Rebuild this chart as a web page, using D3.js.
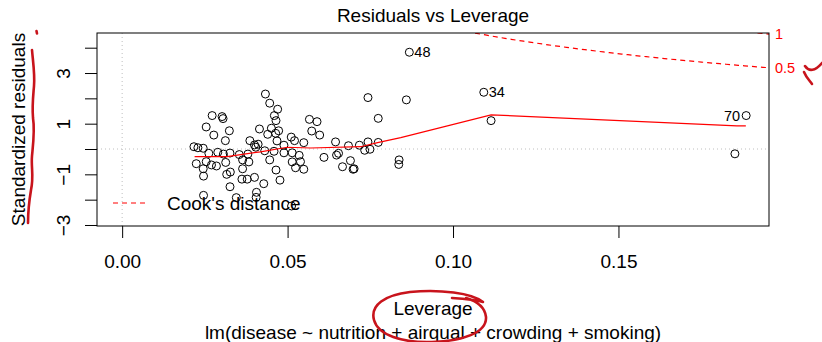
<!DOCTYPE html>
<html>
<head>
<meta charset="utf-8">
<script src="https://cdn.jsdelivr.net/npm/d3@7"></script>
<style>
  html, body { margin: 0; padding: 0; background: #fff; }
  svg { display: block; }
  text { font-family: "Liberation Sans", Arial, Helvetica, sans-serif; fill: #000; }
</style>
</head>
<body>
<svg id="chart" width="822" height="342"></svg>
<script>
// leverage / standardized residual pairs
const leverage = [0.0433, 0.0743, 0.0859, 0.0446, 0.0470, 0.0774, 0.0272, 0.0302, 0.0305, 0.0460,
  0.0465, 0.0566, 0.0589, 0.0254, 0.0324, 0.0277, 0.0415, 0.0451, 0.0440, 0.0464,
  0.0473, 0.0573, 0.0597, 0.0312, 0.0386, 0.0400, 0.0411, 0.0468, 0.0511, 0.0521,
  0.0549, 0.0645, 0.0684, 0.0717, 0.0743, 0.0774, 0.0217, 0.0229, 0.0245, 0.0262,
  0.0289, 0.0306, 0.0326, 0.0354, 0.0380, 0.0404, 0.0431, 0.0459, 0.0489, 0.0489,
  0.0514, 0.0535, 0.0610, 0.0648, 0.0654, 0.0733, 0.0749, 0.0224, 0.0254, 0.0270,
  0.0285, 0.0313, 0.0245, 0.0316, 0.0327, 0.0364, 0.0383, 0.0364, 0.0446, 0.0465,
  0.0514, 0.0524, 0.0539, 0.0549, 0.0690, 0.0666, 0.0698, 0.0701, 0.0837, 0.0836,
  0.0246, 0.0362, 0.0378, 0.0400, 0.0428, 0.0477, 0.0326, 0.0406, 0.0246, 0.0405,
  0.0345, 0.0512, 0.0868, 0.1093, 0.1115, 0.1886, 0.1852];
const stdResid = [2.17, 2.03, 1.94, 1.81, 1.57, 1.21, 1.32, 1.28, 1.20, 1.32,
  1.12, 1.17, 1.08, 0.87, 0.72, 0.55, 0.79, 0.82, 0.58, 0.62,
  0.72, 0.71, 0.55, 0.33, 0.33, 0.16, 0.19, 0.32, 0.47, 0.33,
  0.25, 0.28, 0.13, 0.15, 0.28, 0.26, 0.09, 0.05, 0.03, -0.17,
  -0.13, -0.20, -0.16, -0.22, -0.20, 0.07, -0.07, -0.09, 0.15, -0.15,
  -0.15, -0.25, -0.33, -0.24, -0.17, -0.05, -0.01, -0.58, -0.50, -0.63,
  -0.67, -0.53, -0.78, -1.00, -0.91, -0.78, -0.51, -0.43, -0.43, -0.83,
  -0.51, -0.74, -0.50, -0.80, -0.46, -0.70, -0.80, -0.78, -0.43, -0.61,
  -1.07, -1.19, -1.19, -1.12, -1.37, -1.23, -1.49, -1.71, -1.83, -1.91,
  -1.92, -2.25, 3.82, 2.24, 1.12, 1.32, -0.19];

// labelled observations
const idNames = ["48", "34", "70"];
const idIndex = [92, 93, 95];
const idLeft = [false, false, true];

// red smoother
const smoothX = [0.0219, 0.0317, 0.0418, 0.0499, 0.0570, 0.0721, 0.0772, 0.0842, 0.1115, 0.1858, 0.1885];
const smoothY = [-0.30, -0.30, -0.11, 0.07, 0.04, 0.09, 0.25, 0.45, 1.35, 0.91, 0.91];

// Cook's distance contour levels and number of model parameters
const cookLevels = [0.5, 1];
const nParams = 5;

const xTicks = [0, 0.05, 0.10, 0.15];
const yTicks = [-3, -2, -1, 0, 1, 2, 3, 4];

const plotL = 97, plotR = 769, plotT = 33, plotB = 226;
const svg = d3.select("#chart");

const x = d3.scaleLinear().domain([-0.0076, 0.1955]).range([plotL, plotR]);
const y = d3.scaleLinear().domain([-3.04, 4.58]).range([plotB, plotT]);

svg.append("defs").append("clipPath").attr("id", "plotclip")
  .append("rect").attr("x", plotL).attr("y", plotT)
  .attr("width", plotR - plotL).attr("height", plotB - plotT);

// dotted reference lines
svg.append("line")
  .attr("x1", plotL).attr("x2", plotR).attr("y1", y(0)).attr("y2", y(0))
  .attr("stroke", "#bebebe").attr("stroke-dasharray", "1,3");
svg.append("line")
  .attr("x1", x(0)).attr("x2", x(0)).attr("y1", plotT).attr("y2", plotB)
  .attr("stroke", "#bebebe").attr("stroke-dasharray", "1,3");

// points
svg.append("g").selectAll("circle")
  .data(leverage.map((h, i) => [h, stdResid[i]]))
  .join("circle")
  .attr("cx", d => x(d[0]))
  .attr("cy", d => y(d[1]))
  .attr("r", 4)
  .attr("fill", "none")
  .attr("stroke", "#000")
  .attr("stroke-width", 1);

// smoother
svg.append("path")
  .datum(smoothX.map((h, i) => [h, smoothY[i]]))
  .attr("d", d3.line().x(d => x(d[0])).y(d => y(d[1])))
  .attr("fill", "none").attr("stroke", "red").attr("stroke-width", 1.2);

// Cook's distance contours
const hMax = x.domain()[1];
const hh = d3.range(101).map(i => 0.01 + (hMax - 0.01) * i / 100);
const cookG = svg.append("g").attr("clip-path", "url(#plotclip)");
cookLevels.forEach(c => {
  [1, -1].forEach(sgn => {
    cookG.append("path")
      .datum(hh)
      .attr("d", d3.line().x(h => x(h)).y(h => y(sgn * Math.sqrt(c * nParams * (1 - h) / h))))
      .attr("fill", "none").attr("stroke", "red").attr("stroke-width", 1.2)
      .attr("stroke-dasharray", "5,4");
  });
});
svg.append("g").selectAll("text")
  .data(cookLevels)
  .join("text")
  .attr("x", plotR + 6)
  .attr("y", c => y(Math.sqrt(c * nParams * (1 - hMax) / hMax)))
  .attr("dy", "0.35em")
  .style("fill", "red")
  .attr("font-size", 14.5)
  .text(c => String(c));

// point ids
svg.append("g").selectAll("text")
  .data(idNames)
  .join("text")
  .attr("x", (d, i) => x(leverage[idIndex[i]]) + (idLeft[i] ? -6 : 5))
  .attr("y", (d, i) => y(stdResid[idIndex[i]]))
  .attr("dy", "0.35em")
  .attr("text-anchor", (d, i) => idLeft[i] ? "end" : "start")
  .attr("font-size", 14.5)
  .text(d => d);

// axes
const xAxis = svg.append("g")
  .attr("transform", `translate(0,${plotB})`)
  .call(d3.axisBottom(x).tickValues(xTicks).tickSize(12).tickPadding(17)
    .tickFormat(d3.format(".2f")));
xAxis.select(".domain").remove();
xAxis.selectAll("text").attr("font-size", 19).attr("font-family", null);
xAxis.selectAll("line").attr("stroke", "#000");

const yAxis = svg.append("g")
  .attr("transform", `translate(${plotL},0)`)
  .call(d3.axisLeft(y).tickValues(yTicks).tickSize(12)
    .tickFormat(d => (Math.abs(d) % 2 === 1 ? d3.format("d")(d).replace("-", "\u2212") : "")));
yAxis.select(".domain").remove();
yAxis.selectAll("line").attr("stroke", "#000");
yAxis.selectAll("text")
  .attr("font-size", 19).attr("font-family", null)
  .attr("x", 0).attr("y", -27).attr("dy", 0)
  .attr("text-anchor", "middle")
  .attr("transform", "rotate(-90)");
svg.selectAll(".tick text").style("fill", "#000");
svg.selectAll("g[font-family]").attr("font-family", null).attr("font-size", null);

// box
svg.append("rect")
  .attr("x", plotL).attr("y", plotT)
  .attr("width", plotR - plotL).attr("height", plotB - plotT)
  .attr("fill", "none").attr("stroke", "#000").attr("stroke-width", 1);

// legend
svg.append("line")
  .attr("x1", 113).attr("x2", 148).attr("y1", 203).attr("y2", 203)
  .attr("stroke", "red").attr("stroke-width", 1.2).attr("stroke-dasharray", "5,4");
svg.append("text").attr("x", 167).attr("y", 210).attr("font-size", 19)
  .text("Cook's distance");

// titles
svg.append("text").attr("x", (plotL + plotR) / 2).attr("y", 22)
  .attr("text-anchor", "middle").attr("font-size", 19)
  .text("Residuals vs Leverage");
svg.append("text").attr("x", (plotL + plotR) / 2).attr("y", 315)
  .attr("text-anchor", "middle").attr("font-size", 19)
  .text("Leverage");
svg.append("text").attr("x", (plotL + plotR) / 2).attr("y", 339)
  .attr("text-anchor", "middle").attr("font-size", 19)
  .text("lm(disease ~ nutrition + airqual + crowding + smoking)");
svg.append("text")
  .attr("transform", `translate(25,${(plotT + plotB) / 2}) rotate(-90)`)
  .attr("text-anchor", "middle").attr("font-size", 19)
  .text("Standardized residuals");

// hand-drawn red marks on the reference
const ink = svg.append("g").attr("fill", "none").attr("stroke", "#c8141c")
  .attr("stroke-width", 2.6).attr("stroke-linecap", "round").attr("stroke-linejoin", "round");
ink.append("path").attr("d", "M36.5,31 L37,33.5");
ink.append("path").attr("d", "M32,50 C33,62 35,74 34,86 C33,98 32,106 33,118 C35,130 33,145 32,156 C31,168 34,176 31,190 C29,202 28,212 28,223");
ink.append("path").attr("d", "M805,66 C809,72 815,71 822,63");
ink.append("path").attr("d", "M804,72 C806,77 809,80 812,84");
ink.append("path").attr("d", "M452,298 C466,299 476,300 483,302 C472,293 440,289 410,292 C385,295 370,305 374,320 C378,335 402,343 432,342 C462,341 487,333 486,317 C485,307 476,301 466,298");
</script>
</body>
</html>
